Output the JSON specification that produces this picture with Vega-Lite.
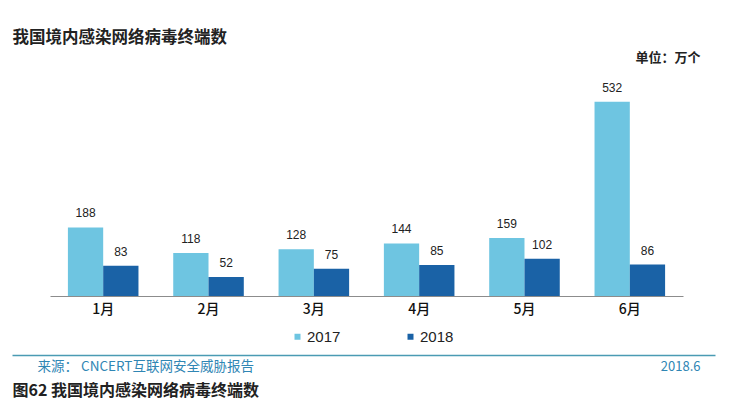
{
  "$schema": "https://vega.github.io/schema/vega-lite/v6.json",
  "width": 633,
  "height": 219,
  "autosize": {"type": "none"},
  "padding": {"left": 50, "top": 77, "right": 56, "bottom": 117},
  "background": "white",
  "config": {"view": {"stroke": null}, "axis": {"grid": false}},
  "data": {
    "values": [
      {"month": "1月", "year": "2017", "value": 188},
      {"month": "1月", "year": "2018", "value": 83},
      {"month": "2月", "year": "2017", "value": 118},
      {"month": "2月", "year": "2018", "value": 52},
      {"month": "3月", "year": "2017", "value": 128},
      {"month": "3月", "year": "2018", "value": 75},
      {"month": "4月", "year": "2017", "value": 144},
      {"month": "4月", "year": "2018", "value": 85},
      {"month": "5月", "year": "2017", "value": 159},
      {"month": "5月", "year": "2018", "value": 102},
      {"month": "6月", "year": "2017", "value": 532},
      {"month": "6月", "year": "2018", "value": 86}
    ]
  },
  "resolve": {"scale": {"x": "independent", "y": "independent"}},
  "layer": [
    {
      "mark": {"type": "bar"},
      "encoding": {
        "x": {
          "field": "month", "type": "nominal", "sort": null,
          "scale": {"paddingInner": 0.33, "paddingOuter": 0.17},
          "axis": {"title": null, "orient": "bottom", "domainColor": "#8c8c8c", "domainWidth": 1, "ticks": false, "labelAngle": 0, "labelFont": "Noto Sans CJK SC", "labelFontSize": 14, "labelFontWeight": 500, "labelColor": "#111", "labelPadding": 6}
        },
        "xOffset": {"field": "year", "type": "nominal"},
        "y": {
          "field": "value", "type": "quantitative",
          "scale": {"domain": [0, 600], "nice": false},
          "axis": {"domain": false, "labels": false, "ticks": false, "grid": false, "title": "图62  我国境内感染网络病毒终端数", "titleAngle": 0, "titleX": -38, "titleY": 313, "titleAlign": "left", "titleBaseline": "middle", "titleFont": "Noto Sans CJK SC", "titleFontSize": 16, "titleFontWeight": "bold", "titleColor": "#222"}
        },
        "color": {
          "field": "year", "type": "nominal",
          "scale": {"domain": ["2017", "2018"], "range": ["#6EC5E1", "#1A62A6"]},
          "legend": {"title": null, "orient": "none", "legendX": 240, "legendY": 252, "direction": "horizontal", "symbolType": "square", "symbolSize": 36, "symbolStrokeWidth": 0, "labelFont": "Liberation Sans", "labelFontSize": 15, "labelColor": "#222", "columnPadding": 62, "labelOffset": 2}
        }
      }
    },
    {
      "mark": {"type": "text", "dy": -10, "baseline": "alphabetic", "font": "Liberation Sans", "fontSize": 12, "color": "#222"},
      "encoding": {
        "x": {
          "field": "month", "type": "nominal", "sort": null,
          "scale": {"paddingInner": 0.33, "paddingOuter": 0.17},
          "axis": {"orient": "top", "domain": false, "labels": false, "ticks": false, "title": "我国境内感染网络病毒终端数", "titleX": -38, "titleY": -40, "titleAlign": "left", "titleBaseline": "middle", "titleFont": "Noto Sans CJK SC", "titleFontSize": 16.5, "titleFontWeight": "bold", "titleColor": "#222"}
        },
        "xOffset": {"field": "year", "type": "nominal"},
        "y": {
          "field": "value", "type": "quantitative",
          "scale": {"domain": [0, 600], "nice": false},
          "axis": {"orient": "right", "domain": false, "labels": false, "ticks": false, "grid": false, "title": "单位：万个", "titleAngle": 0, "titleX": 17, "titleY": -20, "titleAlign": "right", "titleBaseline": "middle", "titleFont": "Noto Sans CJK SC", "titleFontSize": 13, "titleFontWeight": "bold", "titleColor": "#222"}
        },
        "text": {"field": "value", "type": "quantitative"}
      }
    },
    {
      "mark": {"type": "point", "opacity": 0},
      "encoding": {
        "x": {
          "field": "month", "type": "nominal", "sort": null,
          "scale": {"range": [-38, 665]},
          "axis": {"orient": "bottom", "offset": 59, "domainColor": "#4A9BB3", "domainWidth": 1.5, "labels": false, "ticks": false, "title": "来源： CNCERT互联网安全威胁报告", "titleX": -13, "titleY": 11, "titleAlign": "left", "titleBaseline": "middle", "titleFont": "Noto Sans CJK SC", "titleFontSize": 13.5, "titleFontWeight": "normal", "titleColor": "#2F86B4"}
        },
        "y": {
          "field": "value", "type": "quantitative",
          "axis": {"orient": "right", "domain": false, "labels": false, "ticks": false, "grid": false, "title": "2018.6", "titleAngle": 0, "titleX": 17, "titleY": 289, "titleAlign": "right", "titleBaseline": "middle", "titleFont": "Noto Sans CJK SC", "titleFontSize": 13, "titleFontWeight": "normal", "titleColor": "#2F86B4"}
        }
      }
    }
  ]
}
